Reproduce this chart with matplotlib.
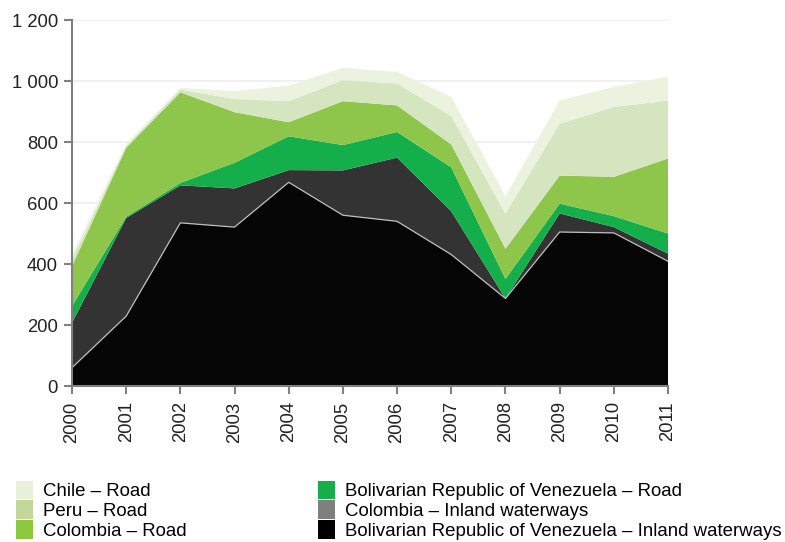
import matplotlib.pyplot as plt
from matplotlib.patches import Patch
from matplotlib.ticker import FuncFormatter

plt.rcParams['font.family'] = ['Liberation Sans', 'DejaVu Sans']

# Data
years = list(range(2000, 2012))
ven_iw = [60, 229, 535, 521, 668, 560, 540, 431, 287, 505, 502, 409]
col_iw = [147, 322, 123, 127, 40, 147, 209, 142, 0, 61, 19, 25]
ven_road = [55, 4, 8, 84, 111, 83, 84, 144, 64, 32, 36, 66]
col_road = [131, 226, 297, 166, 46, 144, 87, 75, 99, 92, 129, 246]
peru_road = [22, 6, 9, 43, 69, 69, 72, 93, 115, 170, 229, 190]
chile_road = [15, 6, 6, 26, 51, 40, 38, 63, 57, 76, 66, 78]

labels = ['Bolivarian Republic of Venezuela – Inland waterways',
          'Colombia – Inland waterways',
          'Bolivarian Republic of Venezuela – Road',
          'Colombia – Road',
          'Peru – Road',
          'Chile – Road']
fill_colors = ['#050505', '#333333', '#14ae4b', '#8dc64a', '#d5e5c0', '#ebf2de']
legend_colors = ['#000000', '#7f7f7f', '#14ae4b', '#8dc63f', '#c3d69b', '#e8f0dc']

fig = plt.figure(figsize=(7.85, 5.42), dpi=100)
ax = fig.add_axes([0.0917, 0.2878, 0.7593, 0.6752])

ax.stackplot(years, ven_iw, col_iw, ven_road, col_road, peru_road, chile_road,
             colors=fill_colors, linewidth=0)
# thin light line along the top of the black layer
ax.plot(years, ven_iw, color='#bdbdbd', lw=0.9, zorder=3)

ax.set_xlim(2000, 2011)
ax.set_ylim(0, 1200)
ax.set_xticks(years)
ax.set_xticklabels([str(y) for y in years], rotation=90, fontsize=13.3)
ax.set_yticks(range(0, 1201, 200))
ax.yaxis.set_major_formatter(FuncFormatter(lambda v, p: f'{int(v):,}'.replace(',', ' ')))
ax.tick_params(axis='y', labelsize=13.3, colors='#808080', labelcolor='#222222',
               length=6, width=1.5, pad=4)
ax.tick_params(axis='x', colors='#808080', labelcolor='#222222',
               length=6, width=1.5, pad=5)

ax.grid(axis='y', color='#eeeeee', lw=1.2)
ax.set_axisbelow(True)
for s in ['top', 'right']:
    ax.spines[s].set_visible(False)
for s in ['left', 'bottom']:
    ax.spines[s].set_color('#808080')
    ax.spines[s].set_linewidth(1.5)
    ax.spines[s].set_zorder(4)

order = [5, 4, 3, 2, 1, 0]
handles = [Patch(facecolor=legend_colors[i], edgecolor='none', label=labels[i]) for i in order]
fig.legend(handles=handles, ncol=2, loc='lower left', bbox_to_anchor=(0.011, -0.0095),
           frameon=False, fontsize=13.4, handlelength=0.92, handleheight=1.18,
           labelspacing=0.0, handletextpad=0.5, columnspacing=7.1, borderaxespad=0)

fig.savefig('out.png', dpi=100)
